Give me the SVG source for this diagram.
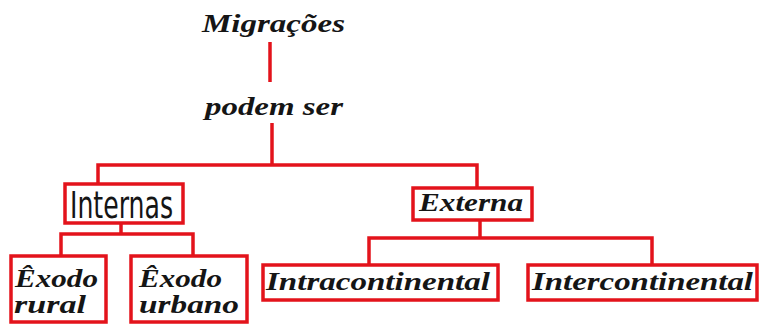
<svg xmlns="http://www.w3.org/2000/svg" width="760" height="327" viewBox="0 0 760 327">
<style>
.t{font-family:"Liberation Serif","DejaVu Serif",serif;font-weight:bold;font-style:italic;font-size:25px;fill:#151515}
.n{font-family:"Liberation Sans Narrow","DejaVu Sans Condensed","Liberation Sans",sans-serif;font-size:38px;fill:#151515}
.box{fill:#fff;stroke:#e3131b;stroke-width:3.5}
.c{fill:none;stroke:#e3131b;stroke-width:3.5;stroke-linejoin:miter;stroke-linecap:butt}
</style>
<rect width="760" height="327" fill="#fff"/>
<g id="connectors">
<path class="c" d="M270,42 V82"/>
<path class="c" d="M272,123 V165"/>
<path class="c" d="M98,185 V165 H477 V189"/>
<path class="c" d="M121,223 V234"/>
<path class="c" d="M61,257 V234 H193 V257"/>
<path class="c" d="M480,220 V238"/>
<path class="c" d="M369,265 V238 H652 V265"/>
</g>
<g id="migracoes"><text class="t" x="202" y="32" textLength="143" lengthAdjust="spacingAndGlyphs">Migrações</text></g>
<g id="podem-ser"><text class="t" x="205" y="115" textLength="138" lengthAdjust="spacingAndGlyphs">podem ser</text></g>
<g id="internas">
<rect class="box" x="65" y="184" width="118" height="39"/>
<text class="n" x="70" y="218" textLength="103" lengthAdjust="spacingAndGlyphs">Internas</text>
</g>
<g id="externa">
<rect class="box" x="413" y="188" width="119" height="32"/>
<text class="t" x="419" y="211" textLength="104" lengthAdjust="spacingAndGlyphs">Externa</text>
</g>
<g id="exodo-rural">
<rect class="box" x="11" y="256" width="95" height="66"/>
<text class="t" x="15" y="287" textLength="83" lengthAdjust="spacingAndGlyphs">Êxodo</text>
<text class="t" x="14" y="313" textLength="72" lengthAdjust="spacingAndGlyphs">rural</text>
</g>
<g id="exodo-urbano">
<rect class="box" x="131" y="256" width="116" height="66"/>
<text class="t" x="139" y="287" textLength="83" lengthAdjust="spacingAndGlyphs">Êxodo</text>
<text class="t" x="139" y="313" textLength="100" lengthAdjust="spacingAndGlyphs">urbano</text>
</g>
<g id="intracontinental">
<rect class="box" x="263" y="265" width="235" height="35"/>
<text class="t" x="266" y="290" textLength="224" lengthAdjust="spacingAndGlyphs">Intracontinental</text>
</g>
<g id="intercontinental">
<rect class="box" x="528" y="265" width="229" height="35"/>
<text class="t" x="532" y="290" textLength="221" lengthAdjust="spacingAndGlyphs">Intercontinental</text>
</g>
</svg>
